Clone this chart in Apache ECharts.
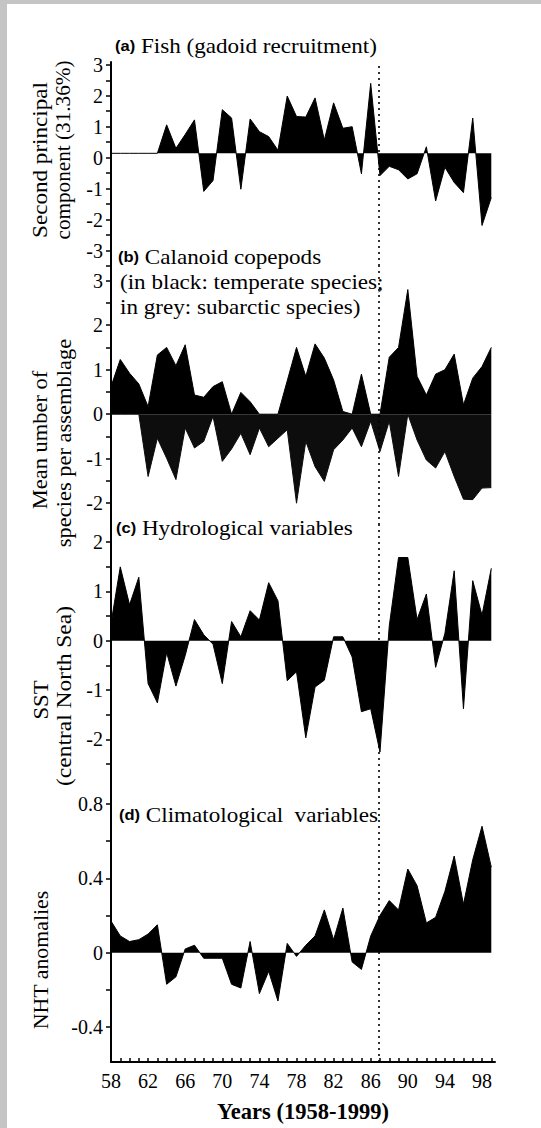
<!DOCTYPE html>
<html>
<head>
<meta charset="utf-8">
<script src="https://cdn.jsdelivr.net/npm/echarts@6/dist/echarts.min.js"></script>
<style>
  html, body { margin: 0; padding: 0; background: #fff; }
  #chart { width: 541px; height: 1128px; }
</style>
</head>
<body>
<div id="chart"></div>
<script>
// Years 1958-1999 (two-digit form used on the axis)
const YEARS = [58, 59, 60, 61, 62, 63, 64, 65, 66, 67, 68, 69, 70, 71, 72, 73, 74, 75, 76, 77, 78,
               79, 80, 81, 82, 83, 84, 85, 86, 87, 88, 89, 90, 91, 92, 93, 94, 95, 96, 97, 98, 99];

// (a) Fish: second principal component of gadoid recruitment (fill baseline sits slightly above 0)
const FISH_BASELINE = 0.14;
const FISH = [0.14, 0.14, 0.14, 0.14, 0.14, 0.14, 1.06, 0.30, 0.75, 1.22, -1.09, -0.74, 1.55, 1.28,
              -1.02, 1.25, 0.84, 0.68, 0.24, 1.99, 1.33, 1.31, 1.93, 0.57, 1.77, 0.95, 1.00, -0.52,
              2.40, -0.58, -0.28, -0.39, -0.69, -0.52, 0.35, -1.40, -0.31, -0.80, -1.13, 1.28, -2.19, -1.29];

// (b) Calanoid copepods: temperate species (above 0) and subarctic species (below 0)
const TEMPERATE = [0.62, 1.23, 0.92, 0.68, 0.17, 1.33, 1.50, 1.09, 1.56, 0.43, 0.38, 0.62, 0.73, 0.00,
                   0.49, 0.28, 0.00, 0.00, 0.00, 0.75, 1.50, 0.85, 1.58, 1.26, 0.77, 0.06, 0.00, 0.90,
                   0.00, 0.00, 1.28, 1.50, 2.80, 0.85, 0.43, 0.90, 1.00, 1.35, 0.21, 0.81, 1.07, 1.50];
const SUBARCTIC = [0.00, 0.00, 0.00, 0.00, -1.40, -0.54, -0.99, -1.47, -0.31, -0.76, -0.61, -0.05, -1.06,
                   -0.78, -0.43, -0.91, -0.31, -0.73, -0.54, -0.35, -2.00, -0.61, -1.18, -1.51, -0.80,
                   -0.58, -0.31, -0.73, -0.16, -0.84, -0.16, -1.40, 0.00, -0.58, -1.03, -1.21, -0.84,
                   -1.40, -1.91, -1.92, -1.66, -1.65];

// (c) Sea surface temperature, central North Sea
const SST = [0.35, 1.50, 0.73, 1.29, -0.87, -1.26, -0.24, -0.92, -0.30, 0.43, 0.12, -0.07, -0.87, 0.39,
             0.08, 0.61, 0.42, 1.18, 0.81, -0.81, -0.63, -1.97, -0.94, -0.80, 0.08, 0.08, -0.33, -1.44,
             -1.38, -2.26, 0.30, 1.69, 1.69, 0.43, 0.95, -0.54, 0.15, 1.42, -1.38, 1.22, 0.52, 1.47];

// (d) Northern Hemisphere temperature anomalies
const NHT = [0.17, 0.09, 0.06, 0.07, 0.10, 0.15, -0.17, -0.13, 0.02, 0.04, -0.03, -0.03, -0.03, -0.17,
             -0.19, 0.06, -0.22, -0.10, -0.26, 0.05, -0.02, 0.04, 0.09, 0.23, 0.07, 0.24, -0.05, -0.09,
             0.09, 0.20, 0.28, 0.23, 0.45, 0.36, 0.16, 0.19, 0.33, 0.52, 0.26, 0.50, 0.68, 0.46];

// Year of the regime shift marked with a dotted line
const SHIFT_YEAR = 86.9;

// Axis tick and label values
const X_LABELS = [58, 62, 66, 70, 74, 78, 82, 86, 90, 94, 98];
const FISH_LABELS = [-3, -2, -1, 0, 1, 2, 3];
const FISH_TICKS = [-3.5, -3, -2.5, -2, -1.5, -1, -0.5, 0, 0.5, 1, 1.5, 2, 2.5, 3];
const COPE_LABELS = [-2, -1, 0, 1, 2, 3];
const COPE_TICKS = [-2, -1.5, -1, -0.5, 0, 0.5, 1, 1.5, 2, 2.5, 3];
const SST_LABELS = [-2, -1, 0, 1, 2];
const SST_TICKS = [-2.5, -2, -1.5, -1, -0.5, 0, 0.5, 1, 1.5, 2];
const NHT_LABELS = [-0.4, 0, 0.4, 0.8];
const NHT_TICKS = [-0.4, -0.2, 0, 0.2, 0.4, 0.6, 0.8];

const SERIF = '"Liberation Serif", "Times New Roman", serif';
const SANS = '"Liberation Sans", Arial, sans-serif';
const INK = '#000';

const chart = echarts.init(document.getElementById('chart'), null, { renderer: 'svg' });

const pairs = (vals) => YEARS.map((y, i) => [y, vals[i]]);

// Four stacked panels sharing one continuous y-axis line
const GRID_LEFT = 111, GRID_WIDTH = 384;
const grids = [
  { left: GRID_LEFT, width: GRID_WIDTH, top: 62, height: 204 },
  { left: GRID_LEFT, width: GRID_WIDTH, top: 266, height: 259 },
  { left: GRID_LEFT, width: GRID_WIDTH, top: 525, height: 265 },
  { left: GRID_LEFT, width: GRID_WIDTH, top: 790, height: 272 }
];

function xAxisFor(gi, visible) {
  return {
    type: 'value', gridIndex: gi, min: 58, max: 99.4, show: visible,
    axisLine: { show: visible, onZero: false, lineStyle: { color: INK, width: 2 } },
    axisTick: { show: visible, inside: true, length: 4, customValues: YEARS,
                lineStyle: { color: INK, width: 1.5 } },
    axisLabel: { show: visible, customValues: X_LABELS, color: INK, fontFamily: SERIF,
                 fontSize: 20, margin: 9 },
    splitLine: { show: false },
    name: visible ? 'Years (1958-1999)' : '',
    nameLocation: 'middle', nameGap: 38,
    nameTextStyle: { color: INK, fontFamily: SERIF, fontSize: 22.5, fontWeight: 'bold' }
  };
}

function yAxisFor(gi, min, max, ticks, labels) {
  return {
    type: 'value', gridIndex: gi, min: min, max: max,
    axisLine: { show: true, onZero: false, lineStyle: { color: INK, width: 2 } },
    axisTick: { show: true, inside: false, length: 5, customValues: ticks,
                lineStyle: { color: INK, width: 1.5 } },
    axisLabel: { customValues: labels, color: INK, fontFamily: SERIF, fontSize: 20, margin: 8 },
    splitLine: { show: false }
  };
}

function shiftLine() {
  return {
    silent: true, symbol: 'none', animation: false,
    label: { show: false },
    lineStyle: { type: [2, 4], color: INK, width: 1.6 },
    data: [{ xAxis: SHIFT_YEAR }]
  };
}

function areaSeries(gi, vals, origin, fill) {
  return {
    type: 'line', xAxisIndex: gi, yAxisIndex: gi, data: pairs(vals),
    showSymbol: false, symbol: 'none', silent: true,
    lineStyle: { color: fill, width: 1 },
    areaStyle: { color: fill, opacity: 1, origin: origin }
  };
}

const fishSeries = areaSeries(0, FISH, FISH_BASELINE, '#000');
fishSeries.markLine = shiftLine();
const tempSeries = areaSeries(1, TEMPERATE, 0, '#000');
tempSeries.markLine = shiftLine();
const subSeries = areaSeries(1, SUBARCTIC, 0, '#0d0d0d');
const sstSeries = areaSeries(2, SST, 0, '#000');
sstSeries.markLine = shiftLine();
const nhtSeries = areaSeries(3, NHT, 0, '#000');
nhtSeries.markLine = shiftLine();

// Panel heading: bold sans tag followed by serif text, slightly widened
function label(x, y, text) {
  return {
    type: 'text', x: x, y: y, scaleX: 1.1, silent: true,
    style: {
      text: text, fill: INK, fontFamily: SERIF, fontSize: 21,
      textAlign: 'left', textVerticalAlign: 'middle',
      rich: {
        tag: { fontFamily: SANS, fontWeight: 'bold', fontSize: 15, fill: INK },
        body: { fontFamily: SERIF, fontSize: 21, fill: INK }
      }
    }
  };
}

// Rotated y-axis title line
function axisName(x, y, text, stretch) {
  return {
    type: 'text', x: x, y: y, rotation: Math.PI / 2, scaleX: stretch, silent: true,
    style: { text: text, fill: INK, fontFamily: SERIF, fontSize: 21,
             textAlign: 'center', textVerticalAlign: 'middle' }
  };
}

chart.setOption({
  animation: false,
  backgroundColor: '#fff',
  grid: grids,
  xAxis: [xAxisFor(0, false), xAxisFor(1, false), xAxisFor(2, false), xAxisFor(3, true)],
  yAxis: [
    yAxisFor(0, -3.5, 3.09, FISH_TICKS, FISH_LABELS),
    yAxisFor(1, -2.49, 3.33, COPE_TICKS, COPE_LABELS),
    yAxisFor(2, -3.03, 2.35, SST_TICKS, SST_LABELS),
    yAxisFor(3, -0.588, 0.875, NHT_TICKS, NHT_LABELS)
  ],
  series: [fishSeries, tempSeries, subSeries, sstSeries, nhtSeries],
  graphic: [
    // frame strips along the top and left edges
    { type: 'rect', shape: { x: 0, y: 0, width: 541, height: 4 }, style: { fill: '#c4c4c4' }, silent: true },
    { type: 'rect', shape: { x: 0, y: 0, width: 7, height: 1128 }, style: { fill: '#c4c4c4' }, silent: true },

    // panel headings
    label(115, 46, '{tag|(a)}{body| Fish (gadoid recruitment)}'),
    label(118, 257, '{tag|(b)}{body| Calanoid copepods}'),
    label(120, 282, '(in black: temperate species;'),
    label(120, 307, 'in grey: subarctic species)'),
    label(116, 528, '{tag|(c)}{body| Hydrological variables}'),
    label(119, 815, '{tag|(d)}{body| Climatological  variables}'),

    // y-axis titles
    axisName(40, 160, 'Second principal', 1.1),
    axisName(63, 150, 'component (31.36%)', 1.01),
    axisName(40, 440, 'Mean umber of', 1.07),
    axisName(64, 443, 'species per assemblage', 1.07),
    axisName(41, 700, 'SST', 1.08),
    axisName(64, 696, '(central North Sea)', 1.12),
    axisName(41, 960, 'NHT anomalies', 1.04)
  ]
});
</script>
</body>
</html>
